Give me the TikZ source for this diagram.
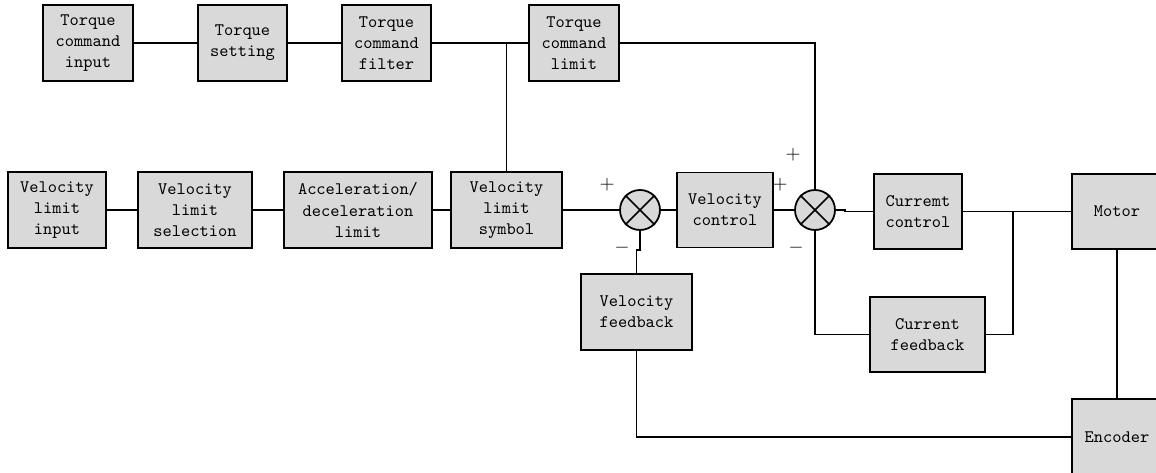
\documentclass[tikz,border=0pt]{standalone}
\usepackage{fontspec}
\begin{document}
\begin{tikzpicture}[x=0.02cm,y=-0.02cm,
	blk/.style={draw,line width=1.1pt,fill=gray!30,align=center,inner sep=0pt,font=\ttfamily\fontsize{10}{12}\selectfont},
	sumjn/.style={draw,circle,line width=1pt,fill=gray!30,minimum size=0.8cm,inner sep=0pt},
	sgn/.style={inner sep=0pt,font=\fontsize{11}{12}\selectfont},
	wire/.style={line width=0.85pt}]
		\clip (0,0) rectangle (1156,473);
		%Torque branch
		\node[blk,minimum width=1.8cm,minimum height=1.52cm] (tci) at (88,43) {Torque\\command\\input};
		\node[blk,minimum width=1.78cm,minimum height=1.52cm] (tset) at (242.5,43) {Torque\\setting};
		\node[blk,minimum width=1.78cm,minimum height=1.52cm] (tfilt) at (386.5,43) {Torque\\command\\filter};
		\node[blk,minimum width=1.8cm,minimum height=1.52cm] (tlim) at (574,43) {Torque\\command\\limit};
		%Velocity branch
		\node[blk,minimum width=1.96cm,minimum height=1.52cm] (vin) at (57,210) {Velocity\\limit\\input};
		\node[blk,minimum width=2.28cm,minimum height=1.52cm] (vsel) at (195,210) {Velocity\\limit\\selection};
		\node[blk,minimum width=2.96cm,minimum height=1.52cm] (acc) at (358,210) {Acceleration/\\deceleration\\limit};
		\node[blk,minimum width=2.22cm,minimum height=1.52cm] (vsym) at (506.5,210) {Velocity\\limit\\symbol};
		\node[sumjn] (sum1) at (640,210) {};
		\node[blk,minimum width=1.92cm,minimum height=1.5cm] (vctl) at (725,210) {Velocity\\control};
		\node[sumjn] (sum2) at (815,210) {};
		\node[blk,minimum width=1.76cm,minimum height=1.5cm] (cctl) at (918,211.5) {Curremt\\control};
		\node[blk,minimum width=1.8cm,minimum height=1.5cm] (motor) at (1117,211.5) {Motor};
		%Feedback
		\node[blk,minimum width=2.3cm,minimum height=1.5cm] (cfb) at (927.5,334.5) {Current\\feedback};
		\node[blk,minimum width=2.22cm,minimum height=1.52cm] (vfb) at (636.5,312) {Velocity\\feedback};
		\node[blk,minimum width=1.8cm,minimum height=1.52cm] (enc) at (1117,437) {Encoder};
		%Crosses
		\foreach \s in {sum1,sum2}
		{
		\draw[wire] (\s.north east) -- (\s.south west);
		\draw[wire] (\s.north west) -- (\s.south east);
		}
		%Signs
		\node[sgn] (p1) at (607,185) {$+$};
		\node[sgn] (m1) at (622,248) {$-$};
		\node[sgn] (p2) at (793,155) {$+$};
		\node[sgn] (p3) at (780,185) {$+$};
		\node[sgn] (m2) at (796,248) {$-$};
		%Wires
		\foreach \a/\b in {tci/tset,tset/tfilt,tfilt/tlim,vin/vsel,vsel/acc,acc/vsym,vsym/sum1,sum1/vctl,vctl/sum2,cctl/motor}
		\draw[wire] (\a) -- (\b);
		\coordinate (tjn) at (vsym.north |- tlim.west);
		\draw[wire] (tjn) -- (vsym.north);
		\draw[wire] (tlim.east) -| (sum2.north);
		\draw[wire] (sum2.east) -- ++(9,0) |- (cctl.west);
		\coordinate (cjn) at (1013,211.5);
		\draw[wire] (cjn) |- (cfb.east);
		\draw[wire] (cfb.west) -| (sum2.south);
		\draw[wire] (vfb.north) -- ++(0,-23) -| (sum1.south);
		\draw[wire] (vfb.south) |- (enc.west);
		\draw[wire] (motor.south) -- (enc.north);
\end{tikzpicture}
\end{document}
